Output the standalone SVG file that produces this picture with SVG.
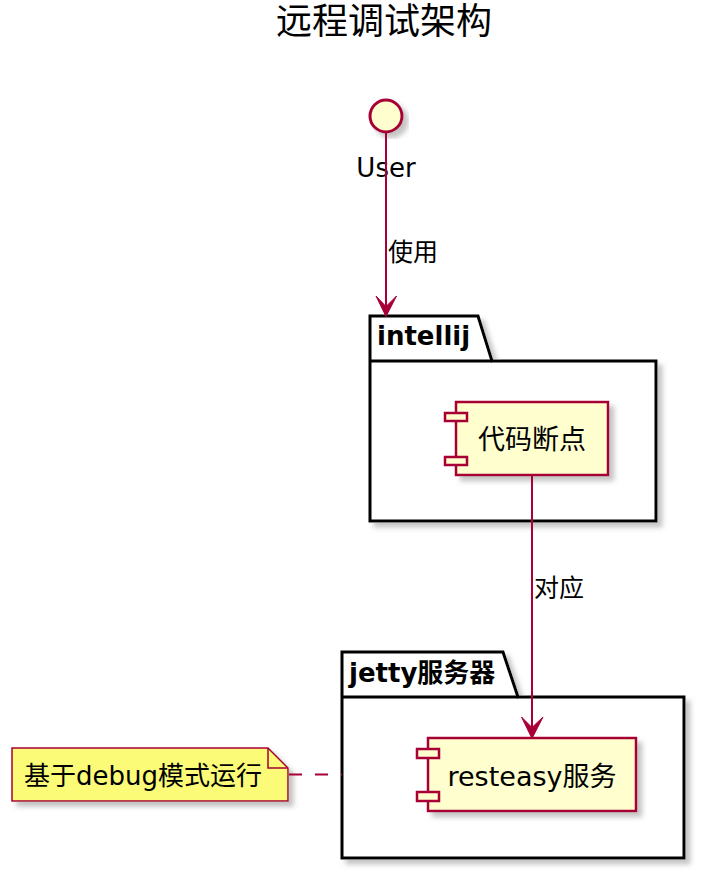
<svg xmlns="http://www.w3.org/2000/svg" width="726" height="880" viewBox="0 0 726 880">
<defs>
<filter id="sh" x="-10%" y="-10%" width="130%" height="130%">
<feGaussianBlur in="SourceAlpha" stdDeviation="2.5"/>
<feOffset dx="5" dy="5" result="b"/>
<feColorMatrix in="b" type="matrix" values="0 0 0 0 0.3  0 0 0 0 0.3  0 0 0 0 0.3  0 0 0 0.55 0"/>
<feMerge><feMergeNode/><feMergeNode in="SourceGraphic"/></feMerge>
</filter>
</defs>
<style>
text{font-family:"DejaVu Sans","Noto Sans CJK SC",sans-serif;fill:#000}
.pkg{fill:#fff;stroke:#000;stroke-width:3}
.comp{fill:#FEFECE;stroke:#A80036;stroke-width:2.5}
.edge{fill:none;stroke:#A80036;stroke-width:2}
.head{fill:#A80036;stroke:#A80036;stroke-width:1}
.lbl{font-size:25px}
.ptitle{font-size:26px;font-weight:bold}
.ctext{font-size:27px}
</style>
<rect width="726" height="880" fill="#fff"/>
<text x="384" y="34" text-anchor="middle" font-size="36">远程调试架构</text>

<g id="pkg-intellij">
<path class="pkg" filter="url(#sh)" d="M370,316 L478,316 L492,361 L656,361 L656,521 L370,521 Z"/>
<path class="pkg" d="M370,361 L492,361"/>
<text class="ptitle" x="377" y="345">intellij</text>
</g>

<g id="pkg-jetty">
<path class="pkg" filter="url(#sh)" d="M342,652 L503,652 L518,697 L684,697 L684,858 L342,858 Z"/>
<path class="pkg" d="M342,697 L518,697"/>
<text class="ptitle" x="349" y="682">jetty服务器</text>
</g>

<g id="user">
<circle cx="386" cy="116" r="16" fill="#FEFECE" stroke="#A80036" stroke-width="3" filter="url(#sh)"/>
<text x="386" y="177" text-anchor="middle" font-size="26">User</text>
</g>

<g id="comp-breakpoint">
<rect class="comp" filter="url(#sh)" x="456" y="402" width="152" height="73"/>
<rect class="comp" x="445" y="413" width="22" height="8"/>
<rect class="comp" x="445" y="457" width="22" height="8"/>
<text class="ctext" x="532" y="449" text-anchor="middle">代码断点</text>
</g>

<g id="comp-resteasy">
<rect class="comp" filter="url(#sh)" x="428" y="738" width="208" height="73"/>
<rect class="comp" x="417" y="749" width="22" height="9"/>
<rect class="comp" x="417" y="792" width="22" height="9"/>
<text class="ctext" x="532" y="786" text-anchor="middle">resteasy服务</text>
</g>

<g id="note">
<path d="M12,748 L268,748 L288,768 L288,801 L12,801 Z" fill="#FBFB77" stroke="#A80036" stroke-width="1.5" filter="url(#sh)"/>
<path d="M268,748 L268,768 L288,768" fill="none" stroke="#A80036" stroke-width="1.5"/>
<text x="24" y="785" font-size="26">基于debug模式运行</text>
</g>

<g id="connectors">
<path class="edge" d="M386,132 L386,312"/>
<polygon class="head" points="386,316.5 376,296 386,306.5 396.5,296"/>
<text class="lbl" x="388" y="261">使用</text>
<path class="edge" d="M532,475 L532,734"/>
<polygon class="head" points="532,738.5 521.5,717 532,727.5 543,717"/>
<text class="lbl" x="534" y="597">对应</text>
<path class="edge" d="M289,774.5 L342,774.5" stroke-dasharray="13,13"/>
</g>
</svg>
